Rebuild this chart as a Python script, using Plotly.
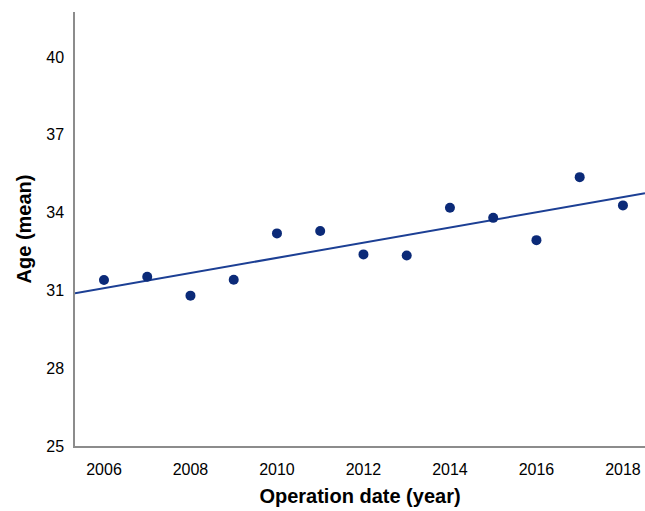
import numpy as np
import plotly.graph_objects as go

years = [2006, 2007, 2008, 2009, 2010, 2011, 2012, 2013, 2014, 2015, 2016, 2017, 2018]
mean_age = [31.40, 31.53, 30.80, 31.41, 33.20, 33.29, 32.39, 32.35, 34.19, 33.80, 32.94, 35.37, 34.28]
x_ticks = [2006, 2008, 2010, 2012, 2014, 2016, 2018]
y_ticks = [25, 28, 31, 34, 37, 40]

x_range = [2005.33, 2018.51]
y_range = [25, 41.74]

slope, intercept = np.polyfit(years, mean_age, 1)
fit_x = np.array(x_range)
fit_y = slope * fit_x + intercept

fig = go.Figure()
fig.add_trace(go.Scatter(x=fit_x, y=fit_y, mode="lines",
                         line=dict(color="#1c3f94", width=2), showlegend=False))
fig.add_trace(go.Scatter(x=years, y=mean_age, mode="markers",
                         marker=dict(color="#0b2a78", size=10), showlegend=False))

font_family = "Liberation Sans, Arial, sans-serif"
fig.update_layout(
    width=645, height=511,
    margin=dict(l=75, r=0, t=12, b=65),
    paper_bgcolor="white", plot_bgcolor="white",
    font=dict(family=font_family, color="black", size=16),
    xaxis=dict(range=x_range, tickvals=x_ticks, showgrid=False, zeroline=False,
               showline=True, linecolor="#8c8c8c", linewidth=1.5, ticks="",
               ticklabelstandoff=8,
               title=dict(text="<b>Operation date (year)</b>", font=dict(size=20), standoff=12)),
    yaxis=dict(range=y_range, tickvals=y_ticks, showgrid=False, zeroline=False,
               showline=True, linecolor="#8c8c8c", linewidth=1.5, ticks="",
               ticklabelstandoff=6,
               title=dict(text="<b>Age (mean)</b>", font=dict(size=20), standoff=9)),
)

fig.write_html("out.html", config={"displayModeBar": False},
               post_script="document.body.style.margin='0';")
